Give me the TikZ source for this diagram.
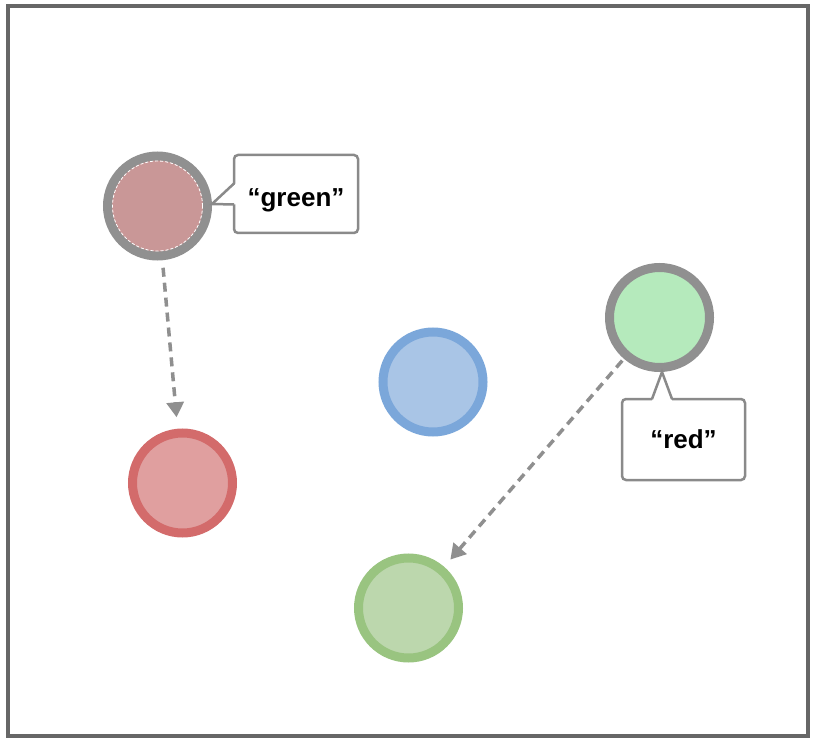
\documentclass[tikz,border=0pt]{standalone}
\usepackage{fontspec}
\setmainfont{Liberation Sans}
\usetikzlibrary{arrows.meta,calc}
\definecolor{framegray}{HTML}{676767}
\definecolor{ringgray}{HTML}{909090}
\definecolor{boxgray}{HTML}{8A8A8A}
\definecolor{arrowgray}{HTML}{8F8F8F}
\definecolor{rosefill}{HTML}{C99797}
\definecolor{mintfill}{HTML}{B5EABC}
\definecolor{redline}{HTML}{D36B6B}
\definecolor{redfill}{HTML}{E09F9F}
\definecolor{blueline}{HTML}{7BA7DA}
\definecolor{bluefill}{HTML}{A9C5E6}
\definecolor{greenline}{HTML}{99C480}
\definecolor{greenfill}{HTML}{BCD7AD}
\begin{document}
\begin{tikzpicture}[x=1pt,y=-1pt,
  ball/.style={circle, minimum size=100pt, inner sep=0pt, outer sep=0pt, line width=9pt},
  callbox/.style={rectangle, draw=boxgray, line width=2.5pt, rounded corners=4pt, fill=white,
    inner sep=0pt, outer sep=0pt, text depth=0pt, font=\fontsize{26}{30}\selectfont\bfseries},
  pointerline/.style={draw=boxgray, line width=2.5pt, line join=miter},
  link/.style={draw=arrowgray, line width=3.5pt, dash pattern=on 9pt off 6pt,
    -{Triangle[length=15pt,width=17pt]}}
]
\useasboundingbox (0,0) rectangle (824,743);
\draw[draw=framegray, line width=4pt] (8,6) rectangle (808,735.5);

% circles
\node[ball, draw=ringgray, fill=rosefill] (selA) at (157.5,206) {};
\draw[white, line width=0.8pt, dash pattern=on 3pt off 2pt] (selA.center) circle (45pt);
\node[ball, draw=ringgray, fill=mintfill] (selB) at (659.5,317.5) {};
\node[ball, draw=redline, fill=redfill] (redC) at (182.5,483) {};
\node[ball, draw=blueline, fill=bluefill] (blueC) at (433,382) {};
\node[ball, draw=greenline, fill=greenfill] (greenC) at (408.5,608) {};

% callout "green"
\node[callbox, minimum width=124pt, minimum height=78pt, text height=25pt] (gbox) at (296,194) {“green”};
\coordinate (gtip) at (212,204);
\fill[white] ($(gbox.west)+(2,-10.5)$) -- (gtip) -- ($(gbox.west)+(2,10.5)$) -- cycle;
\draw[pointerline] ($(gbox.west)+(0,-10.5)$) -- (gtip) -- ($(gbox.west)+(0,10.5)$);

% callout "red"
\node[callbox, minimum width=123pt, minimum height=81pt, text height=17pt] (rbox) at (683.5,439.5) {“red”};
\coordinate (rtip) at (662,372);
\fill[white] ($(rbox.north)+(-31.5,2)$) -- (rtip) -- ($(rbox.north)+(-11.5,2)$) -- cycle;
\draw[pointerline] ($(rbox.north)+(-31.5,0)$) -- (rtip) -- ($(rbox.north)+(-11.5,0)$);

% arrows
\draw[link, shorten <=12pt, shorten >=16pt] (selA) -- (redC);
\draw[link, shorten <=7pt, shorten >=14pt] (selB) -- (greenC);
\end{tikzpicture}
\end{document}
